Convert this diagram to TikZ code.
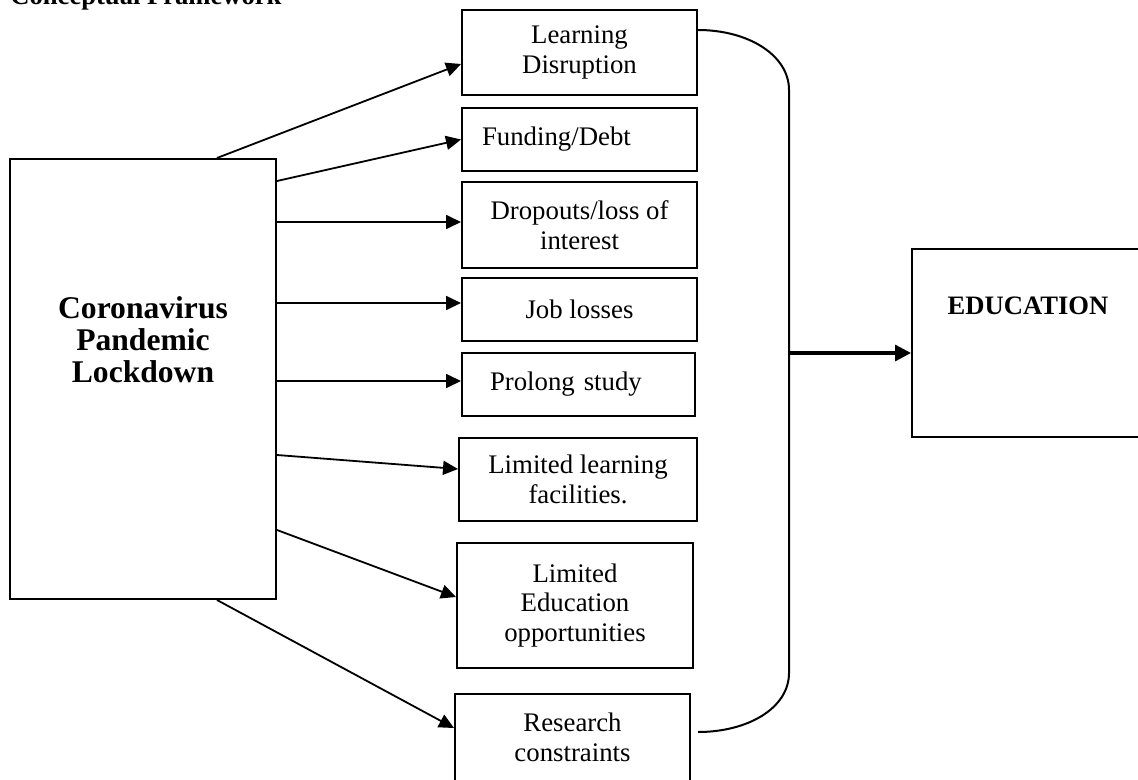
\documentclass[tikz,border=0pt]{standalone}
\usepackage{fontspec}
\setmainfont{Liberation Serif}
\usetikzlibrary{arrows.meta}

\begin{document}
\begin{tikzpicture}[x=0.5pt, y=-0.5pt,
    box/.style={draw, line width=1pt, inner sep=0pt, align=center,
        font=\fontsize{13.4}{14.8}\selectfont},
    boldtext/.style={inner sep=0pt, font=\fontsize{13.3}{15}\selectfont\bfseries},
    arr/.style={line width=0.9pt, -{Triangle[length=7.5pt,width=7pt]}},
    bigarr/.style={line width=1.6pt, -{Triangle[length=8pt,width=8pt]}}]
\useasboundingbox (0,0) rectangle (1138,780);
\node[boldtext, anchor=base west] (ttl) at (10,5) {Conceptual Framework};
% cause
\node[box, minimum width=133pt, minimum height=220pt] (cpl) at (143,379) {};
\node[align=center, inner sep=0pt, font=\fontsize{15.8}{16}\selectfont\bfseries]
    (cpltxt) at (143,340) {Coronavirus\\Pandemic\\Lockdown};
% effects
\node[box, minimum width=117.5pt, minimum height=42.5pt] (ld) at (579.5,52.5)
    {Learning\\Disruption};
\node[box, minimum width=117.5pt, minimum height=31.5pt, text width=97.5pt,
    align=left, inner xsep=10pt] (fd) at (579.5,139.5) {Funding/Debt};
\node[box, minimum width=117.5pt, minimum height=43pt] (dl) at (579.5,225)
    {Dropouts/loss of\\interest};
\node[box, minimum width=117.5pt, minimum height=31.5pt] (jl) at (579.5,309.5)
    {Job losses};
\node[box, minimum width=116.5pt, minimum height=31.5pt, text width=88.5pt,
    align=left, inner xsep=14pt] (ps) at (578.5,384.5) {Prolong study};
\node[box, minimum width=119pt, minimum height=41.5pt] (lf) at (578,479.5)
    {Limited learning\\facilities.};
\node[box, minimum width=118pt, minimum height=62.5pt] (le) at (575,605.5)
    {Limited\\Education\\opportunities};
\node[box, minimum width=117.5pt, minimum height=43.5pt] (rc) at (572.5,737.5)
    {Research\\constraints};
% outcome
\node[box, minimum width=115pt, minimum height=94pt] (edu) at (1027,343) {};
\node[boldtext] (edutxt) at (1028,306) {EDUCATION};
% arrows
\draw[arr] ([xshift=37pt]cpl.north) -- ([yshift=-5.75pt]ld.west);
\draw[arr] ([yshift=99pt]cpl.east) -- (fd.west);
\foreach \b/\s in {dl/1.5, jl/3.25, ps/1.75}
    \draw[arr] ([yshift=\s pt]cpl.east |- \b.west) -- ([yshift=\s pt]\b.west);
\draw[arr] ([yshift=-38pt]cpl.east) -- ([yshift=5.25pt]lf.west);
\draw[arr] ([yshift=-75.5pt]cpl.east) -- ([yshift=4.25pt]le.west);
\draw[arr] ([xshift=37pt]cpl.south) -- ([yshift=4.75pt]rc.west);
% bracket
\coordinate (bt) at (789,90);
\coordinate (bb) at (789,673);
\draw[line width=1pt] ([yshift=11.25pt]ld.east) .. controls +(50,0) and +(0,-35) .. (bt)
    -- (bb) .. controls +(0,35) and +(50,0) .. ([xshift=3.5pt,yshift=2.75pt]rc.east);
\draw[bigarr] ([yshift=-5pt]bt |- edu.west) -- ([yshift=-5pt]edu.west);
\end{tikzpicture}
\end{document}
